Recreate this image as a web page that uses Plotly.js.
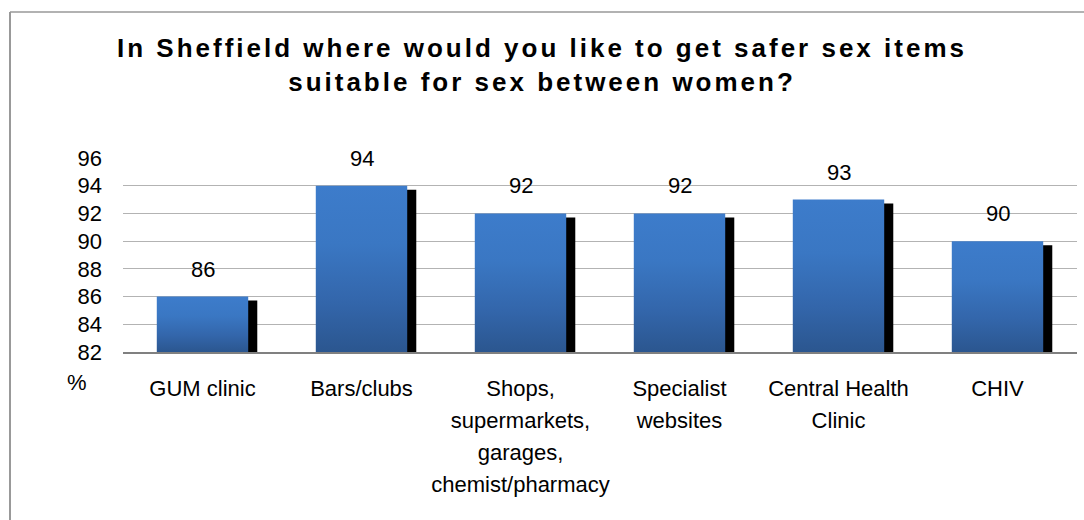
<!DOCTYPE html>
<html>
<head>
<meta charset="utf-8">
<script src="https://cdn.plot.ly/plotly-3.0.1.min.js"></script>
<style>
html,body{margin:0;padding:0;background:#fff;}
#chart{width:1084px;height:520px;}
#chart .gtitle{letter-spacing:3px;}
</style>
</head>
<body>
<div id="chart"></div>
<script>
// ---- data ----
const categories = ["GUM clinic", "Bars/clubs", "Shops,<br>supermarkets,<br>garages,<br>chemist/pharmacy", "Specialist<br>websites", "Central Health<br>Clinic", "CHIV"];
const percentValues = [86, 94, 92, 92, 93, 90];
const yTickValues = [82, 84, 86, 88, 90, 92, 94, 96];
const titleText = "In Sheffield where would you like to get safer sex items<br>suitable for sex between women?";
const unitLabel = "%";

// ---- layout constants ----
const axisMin = 82, axisMax = 96;
const barWidth = 0.575;
const shadowShiftX = 0.057;   // category units (~9px)
const shadowDropY = 0.29;     // value units (~4px)

const mainBars = {
  type: 'bar',
  x: categories,
  y: percentValues.map(v => v - axisMin),
  base: axisMin,
  width: barWidth,
  offset: -barWidth / 2,
  marker: {color: '#3470b8', line: {width: 0}},
  hoverinfo: 'skip',
  showlegend: false
};
const shadowBars = {
  type: 'bar',
  x: categories,
  y: percentValues.map(v => v - axisMin - shadowDropY),
  base: axisMin,
  width: barWidth,
  offset: -barWidth / 2 + shadowShiftX,
  marker: {color: '#000000', line: {width: 0}},
  hoverinfo: 'skip',
  showlegend: false
};

const W = 1084, H = 520;
const L = 123, R = 7, T = 158, B = 168;
const pw = W - L - R, ph = H - T - B;
const px2x = p => (p - L) / pw;
const py2y = p => (H - B - p) / ph;

const annotations = percentValues.map((v, i) => ({
  x: categories[i], y: v, xref: 'x', yref: 'y',
  text: String(v), showarrow: false,
  yanchor: 'bottom', yshift: 13,
  font: {family: 'Liberation Sans, Arial, sans-serif', size: 22, color: '#000'}
}));
annotations.push({
  x: px2x(77), y: py2y(382), xref: 'paper', yref: 'paper',
  text: unitLabel, showarrow: false, xanchor: 'center', yanchor: 'middle',
  font: {family: 'Liberation Sans, Arial, sans-serif', size: 22, color: '#000'}
});

const layout = {
  width: W, height: H,
  margin: {l: L, r: R, t: T, b: B, pad: 0},
  paper_bgcolor: 'rgba(0,0,0,0)',
  plot_bgcolor: 'rgba(0,0,0,0)',
  barmode: 'overlay',
  title: {
    text: titleText,
    x: 0.5, xref: 'container', xanchor: 'center',
    y: 1 - 57 / H, yref: 'container', yanchor: 'top',
    font: {family: 'Liberation Sans, Arial, sans-serif', size: 26, color: '#000', weight: 'bold'}
  },
  xaxis: {
    type: 'category',
    range: [-0.5, categories.length - 0.5],
    showgrid: false, zeroline: false,
    showline: true, linecolor: '#808080', linewidth: 2,
    ticks: '', ticklabelstandoff: 16,
    tickfont: {family: 'Liberation Sans, Arial, sans-serif', size: 22, color: '#000'},
    fixedrange: true
  },
  yaxis: {
    range: [axisMin, axisMax],
    tickvals: yTickValues,
    ticktext: yTickValues.map(String),
    showgrid: true, gridcolor: '#b3b3b3', gridwidth: 1,
    zeroline: false, showline: false,
    ticks: '', ticklabelstandoff: 20,
    tickfont: {family: 'Liberation Sans, Arial, sans-serif', size: 22, color: '#000'},
    fixedrange: true
  },
  annotations: annotations,
  shapes: [
    {type: 'line', xref: 'paper', yref: 'paper', x0: px2x(10), x1: px2x(10), y0: py2y(12), y1: py2y(540), line: {color: '#999999', width: 2}},
    {type: 'line', xref: 'paper', yref: 'paper', x0: px2x(10), x1: px2x(1100), y0: py2y(12), y1: py2y(12), line: {color: '#999999', width: 1.5}}
  ]
};

Plotly.newPlot('chart', [shadowBars, mainBars], layout, {staticPlot: true, displayModeBar: false}).then(gd => {
  const svg = gd.querySelector('.main-svg');
  const ns = 'http://www.w3.org/2000/svg';
  let defs = svg.querySelector('defs');
  if (!defs) { defs = document.createElementNS(ns, 'defs'); svg.insertBefore(defs, svg.firstChild); }
  const grad = document.createElementNS(ns, 'linearGradient');
  grad.setAttribute('id', 'barGradient');
  grad.setAttribute('x1', '0'); grad.setAttribute('y1', '0');
  grad.setAttribute('x2', '0'); grad.setAttribute('y2', '1');
  [[0, '#3d7ccb'], [0.35, '#3a77c3'], [0.7, '#3366ab'], [1, '#2b568f']].forEach(([o, c]) => {
    const s = document.createElementNS(ns, 'stop');
    s.setAttribute('offset', o); s.setAttribute('stop-color', c);
    grad.appendChild(s);
  });
  defs.appendChild(grad);
  const traces = gd.querySelectorAll('.barlayer .trace');
  if (traces.length > 1) {
    traces[1].querySelectorAll('path').forEach(p => { p.style.fill = 'url(#barGradient)'; });
  }
  // looser line spacing for multi-line category labels
  gd.querySelectorAll('.xtick text tspan.line').forEach(t => {
    const dy = t.getAttribute('dy');
    const d = dy ? parseFloat(dy) : 0;
    if (d > 0) t.setAttribute('dy', (d * 1.45 / 1.3).toFixed(3) + 'em');
  });
});
</script>
</body>
</html>
